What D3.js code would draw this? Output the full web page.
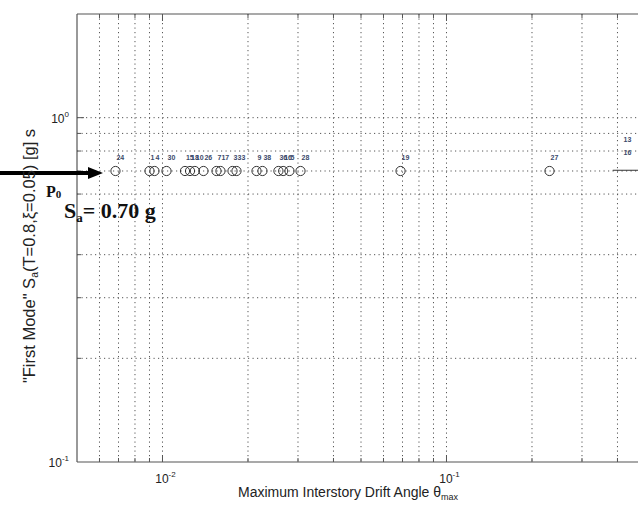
<!DOCTYPE html>
<html>
<head>
<meta charset="utf-8">
<script src="https://cdn.jsdelivr.net/npm/d3@7"></script>
<style>
  html, body { margin: 0; padding: 0; background: #fff; }
  svg { display: block; }
</style>
</head>
<body>
<svg id="chart" width="638" height="506"></svg>
<script>
// Ground-motion records scaled to the same first-mode spectral acceleration
const recordIds   = ["24", "1", "4", "30", "15", "18", "10", "26", "7", "17", "3", "33",
                     "9", "38", "36", "16", "5", "28", "19", "27"];
const driftValues = [0.00683, 0.00900, 0.00937, 0.01033, 0.01200, 0.01250, 0.01300, 0.01394,
                     0.01549, 0.01600, 0.01764, 0.01822, 0.02143, 0.02249, 0.02560, 0.02660,
                     0.02800, 0.03062, 0.0689, 0.2305];
const saLevel = 0.70;

// Records that run off the right side of the plot (labels only)
const offIds   = ["13", "16"];
const offDrift = [0.42, 0.42];
const offSa    = [0.86, 0.79];

// Axis domains and tick labels
const xDomain = [0.005, 0.5];
const yDomain = [0.1, 2];
const xMajor = [0.01, 0.1];
const xMajorExp = ["-2", "-1"];
const yMajor = [0.1, 1];
const yMajorExp = ["-1", "0"];
const xGrid = [0.006, 0.007, 0.008, 0.009, 0.01, 0.02, 0.03, 0.04, 0.05, 0.06, 0.07, 0.08, 0.09,
               0.1, 0.2, 0.3, 0.4];
const yTicks = [0.2, 0.3, 0.4, 0.5, 0.6, 0.7, 0.8, 0.9, 1];
const yGrid = [0.2, 0.3, 0.4, 0.6, 0.7, 0.8, 0.9, 1];

const svg = d3.select("#chart");
const plotLeft = 77, plotTop = 14, plotBottom = 462;
const decadeX = 284;

const x = d3.scaleLog().domain(xDomain)
  .range([plotLeft, plotLeft + decadeX * Math.log10(xDomain[1] / xDomain[0])]);
const y = d3.scaleLog().domain(yDomain).range([plotBottom, plotTop]);
const plotRight = x(xDomain[1]);

const plot = svg.append("g");
svg.append("clipPath").attr("id", "plotclip")
  .append("rect").attr("x", plotLeft).attr("y", plotTop)
  .attr("width", plotRight - plotLeft).attr("height", plotBottom - plotTop);

// dotted grid
const grid = plot.append("g").attr("stroke", "#555").attr("stroke-width", 1)
  .attr("stroke-dasharray", "1.2,3.3").attr("fill", "none");
grid.selectAll("line.v").data(xGrid).join("line").attr("class", "v")
  .attr("x1", d => x(d)).attr("x2", d => x(d)).attr("y1", plotTop).attr("y2", plotBottom);
grid.selectAll("line.h").data(yGrid).join("line").attr("class", "h")
  .attr("y1", d => y(d)).attr("y2", d => y(d)).attr("x1", plotLeft).attr("x2", plotRight);

// frame
const frame = plot.append("g").attr("stroke", "#555").attr("stroke-width", 1.2).attr("fill", "none");
frame.append("line").attr("x1", plotLeft).attr("x2", plotLeft).attr("y1", plotTop).attr("y2", plotBottom);
frame.append("line").attr("x1", plotLeft).attr("x2", plotRight).attr("y1", plotTop).attr("y2", plotTop);
frame.append("line").attr("x1", plotLeft).attr("x2", plotRight).attr("y1", plotBottom).attr("y2", plotBottom);

// inward ticks
const ticks = plot.append("g").attr("stroke", "#555").attr("stroke-width", 1);
ticks.selectAll("line.xt").data(xGrid).join("line").attr("class", "xt")
  .attr("x1", d => x(d)).attr("x2", d => x(d))
  .attr("y1", plotBottom).attr("y2", d => plotBottom - (xMajor.includes(d) ? 7 : 4));
ticks.selectAll("line.xtt").data(xGrid).join("line").attr("class", "xtt")
  .attr("x1", d => x(d)).attr("x2", d => x(d))
  .attr("y1", plotTop).attr("y2", d => plotTop + (xMajor.includes(d) ? 7 : 4));
ticks.selectAll("line.yt").data(yTicks).join("line").attr("class", "yt")
  .attr("y1", d => y(d)).attr("y2", d => y(d))
  .attr("x1", plotLeft).attr("x2", d => plotLeft + (yMajor.includes(d) ? 7 : 4));

// tick labels
const tickFont = "'Liberation Sans', Arial, sans-serif";
function powerLabel(g, px, py, exp, anchor) {
  const t = g.append("text").attr("x", px).attr("y", py)
    .attr("font-family", tickFont).attr("font-size", 12).attr("fill", "#222")
    .attr("text-anchor", anchor);
  t.append("tspan").text("10");
  t.append("tspan").attr("dy", -6).attr("font-size", 8).text(exp);
}
const labels = svg.append("g");
xMajor.forEach((v, i) => powerLabel(labels, x(v) + 3, plotBottom + 21, xMajorExp[i], "middle"));
yMajor.forEach((v, i) => powerLabel(labels, plotLeft - 8, y(v) + 5, yMajorExp[i], "end"));

// records
const marks = svg.append("g").attr("clip-path", "url(#plotclip)");
marks.selectAll("circle").data(driftValues).join("circle")
  .attr("cx", d => x(d)).attr("cy", y(saLevel)).attr("r", 4.6)
  .attr("fill", "none").attr("stroke", "#333").attr("stroke-width", 1);
marks.selectAll("text.id").data(driftValues).join("text").attr("class", "id")
  .attr("x", d => x(d) + 1).attr("y", y(saLevel * 1.09))
  .attr("dominant-baseline", "middle")
  .attr("font-family", tickFont).attr("font-size", 7).attr("font-weight", "bold")
  .attr("fill", "#3a4a6a")
  .text((d, i) => recordIds[i]);
svg.selectAll("text.off").data(offDrift).join("text").attr("class", "off")
  .attr("x", d => x(d)).attr("y", (d, i) => y(offSa[i]))
  .attr("dominant-baseline", "middle")
  .attr("font-family", tickFont).attr("font-size", 7).attr("font-weight", "bold")
  .attr("fill", "#3a4a6a")
  .text((d, i) => offIds[i]);
// collapse branch beyond the last drift value
marks.append("line")
  .attr("x1", x(0.385)).attr("x2", plotRight)
  .attr("y1", y(saLevel * 1.005)).attr("y2", y(saLevel * 1.005))
  .attr("stroke", "#333").attr("stroke-width", 1);

// arrow marking the P0 intensity level
const ay = y(saLevel) + 2;
svg.append("line").attr("x1", 0).attr("x2", 90).attr("y1", ay).attr("y2", ay)
  .attr("stroke", "#000").attr("stroke-width", 4);
svg.append("path")
  .attr("d", `M88,${ay - 6} L103,${ay} L88,${ay + 6} Z`).attr("fill", "#000");

const serif = "'Liberation Serif', 'Times New Roman', serif";
const p0 = svg.append("text").attr("x", 46).attr("y", 197)
  .attr("font-family", serif).attr("font-weight", "bold").attr("font-size", 16).attr("fill", "#111");
p0.append("tspan").text("P");
p0.append("tspan").attr("font-size", 11).attr("dy", 1).text("0");

const sa = svg.append("text").attr("x", 64).attr("y", 218)
  .attr("font-family", serif).attr("font-weight", "bold").attr("font-size", 22).attr("fill", "#111");
sa.append("tspan").text("S");
sa.append("tspan").attr("font-size", 13).attr("dy", 4).text("a");
sa.append("tspan").attr("dy", -4).text("= 0.70 g");

// axis titles
const xt = svg.append("text").attr("x", 238).attr("y", 497)
  .attr("font-family", tickFont).attr("font-size", 14).attr("fill", "#222");
xt.append("tspan").text("Maximum Interstory Drift Angle \u03b8");
xt.append("tspan").attr("font-size", 9).attr("dy", 3).text("max");

const yt = svg.append("text")
  .attr("transform", "translate(35,256) rotate(-90)")
  .attr("text-anchor", "middle")
  .attr("font-family", tickFont).attr("font-size", 16.5).attr("fill", "#222");
yt.append("tspan").text("\"First Mode\"  S");
yt.append("tspan").attr("font-size", 10.5).attr("dy", 3).text("a");
yt.append("tspan").attr("dy", -3).text("(T=0.8,\u03be=0.05) [g] s");
</script>
</body>
</html>
